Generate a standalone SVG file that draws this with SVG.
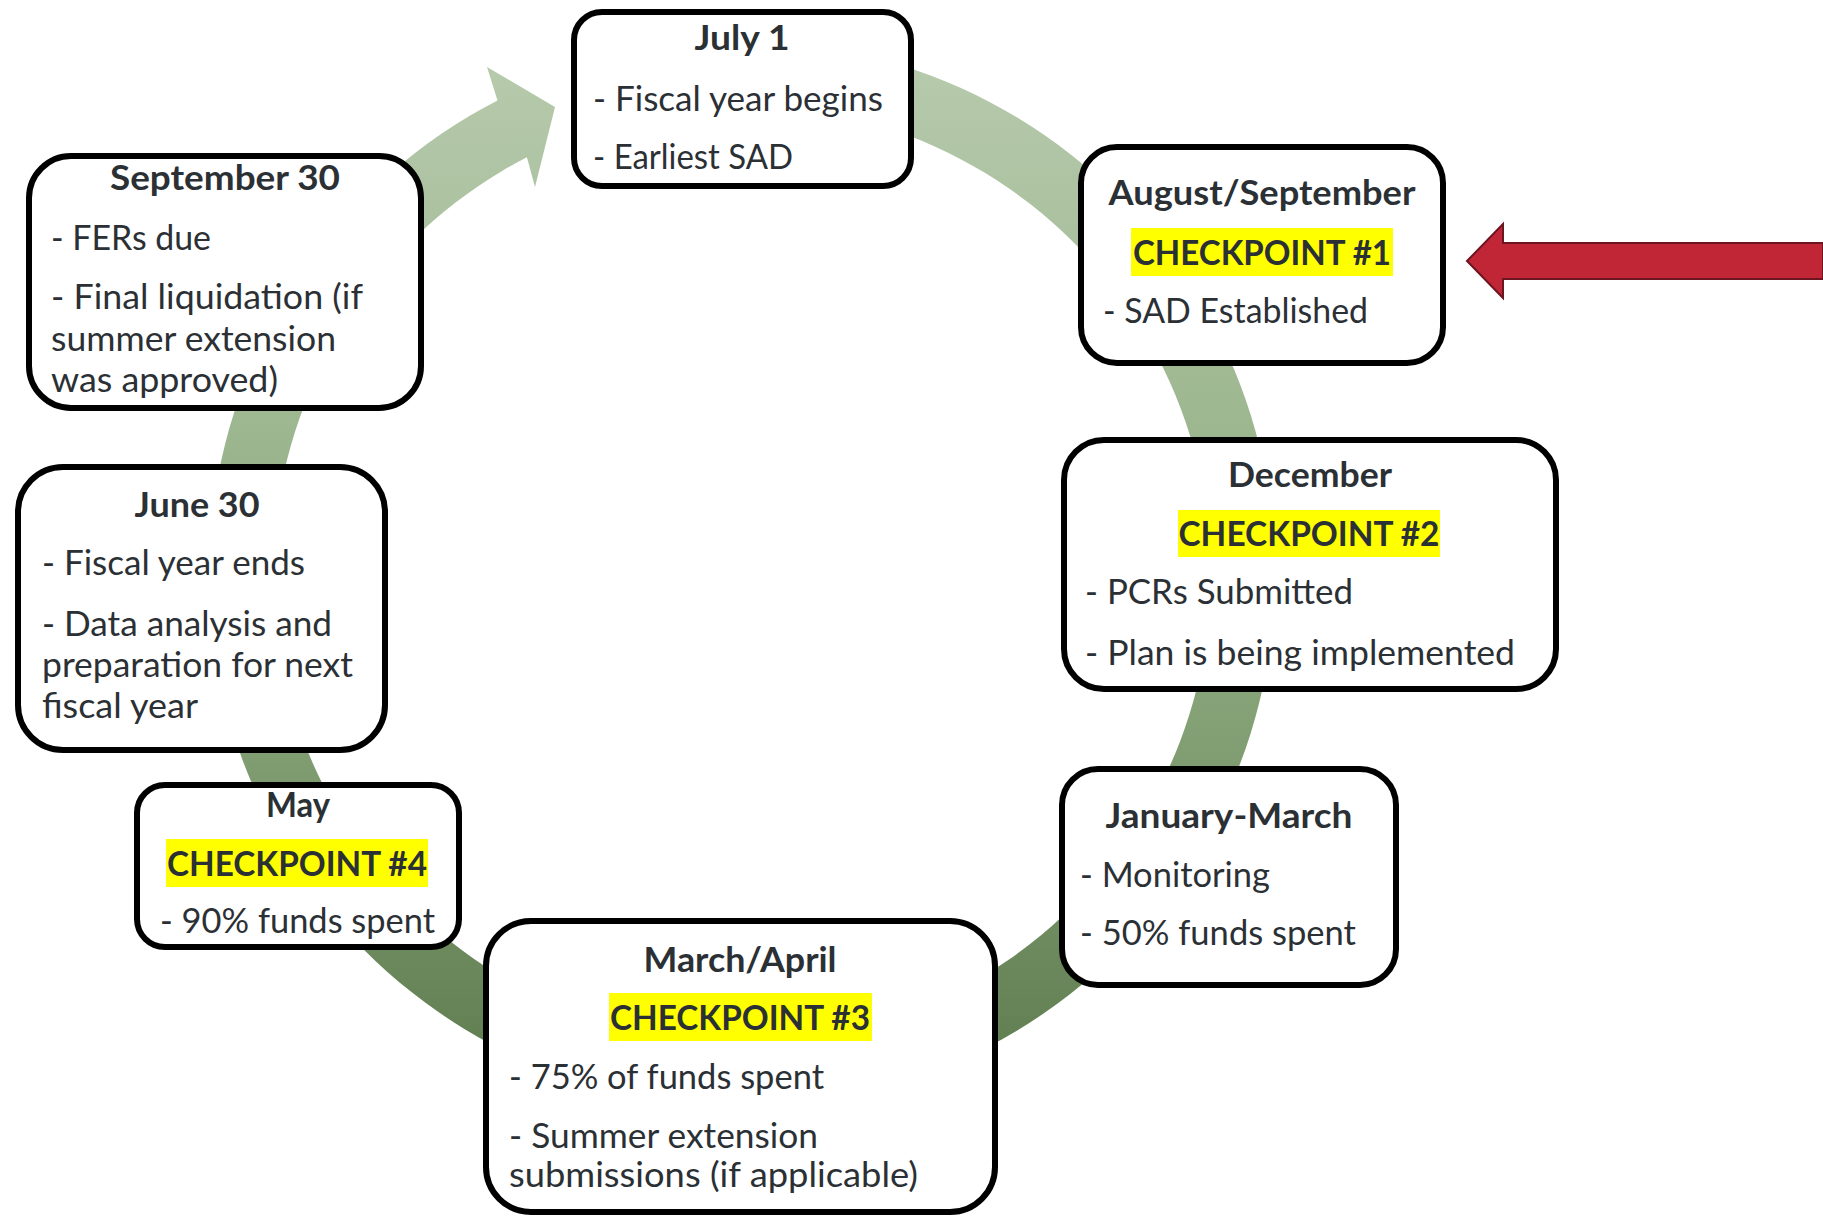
<svg xmlns="http://www.w3.org/2000/svg" width="1823" height="1218" viewBox="0 0 1823 1218">
<defs>
<linearGradient id="g" gradientUnits="userSpaceOnUse" x1="0" y1="41" x2="0" y2="1107">
<stop offset="0" stop-color="#b8cbae"/>
<stop offset="0.36" stop-color="#9db790"/>
<stop offset="0.64" stop-color="#84a075"/>
<stop offset="1" stop-color="#5b7a4c"/>
</linearGradient>
<style>
.box{fill:#fff;stroke:#000;stroke-width:6}
.t{font-family:Lato,"Noto Sans",sans-serif;font-weight:700;font-size:34px;fill:#2b3035;text-anchor:middle}
.l{font-family:Lato,"Noto Sans",sans-serif;font-size:35px;fill:#2b3035}
.hl{fill:#ffff00}
</style>
</defs>
<rect width="1823" height="1218" fill="#fff"/>
<g id="connectors">
<path id="cycle-arrow" fill="url(#g)" d="M 742 41 A 533 533 0 1 1 497.5 100.4 L 487 67 L 555 107 L 535 187 L 526.9 157.2 A 469 469 0 1 0 742 105 Z"/>
<polygon id="red-arrow" points="1467,261 1503,224 1503,243 1823,243 1823,279 1503,279 1503,298" fill="#c12637" stroke="#6d1520" stroke-width="2"/>
</g>
<g id="july1">
<rect class="box" x="574" y="12" width="337" height="174" rx="28"/>
<text class="t" x="742" y="50" textLength="95" lengthAdjust="spacingAndGlyphs">July 1</text>
<text class="l" x="593" y="111" textLength="290" lengthAdjust="spacingAndGlyphs">- Fiscal year begins</text>
<text class="l" x="593" y="169" textLength="200" lengthAdjust="spacingAndGlyphs">- Earliest SAD</text>
</g>
<g id="aug-sep">
<rect class="box" x="1081" y="147" width="362" height="216" rx="36"/>
<text class="t" x="1262" y="205" textLength="307" lengthAdjust="spacingAndGlyphs">August/September</text>
<rect class="hl" x="1131" y="228" width="262" height="48"/>
<text class="t" x="1262" y="265" textLength="258" lengthAdjust="spacingAndGlyphs">CHECKPOINT #1</text>
<text class="l" x="1103" y="323" textLength="265" lengthAdjust="spacingAndGlyphs">- SAD Established</text>
</g>
<g id="december">
<rect class="box" x="1064" y="440" width="492" height="249" rx="40"/>
<text class="t" x="1310" y="487" textLength="164" lengthAdjust="spacingAndGlyphs">December</text>
<rect class="hl" x="1178" y="510" width="262" height="47"/>
<text class="t" x="1309" y="546" textLength="261" lengthAdjust="spacingAndGlyphs">CHECKPOINT #2</text>
<text class="l" x="1085" y="604" textLength="268" lengthAdjust="spacingAndGlyphs">- PCRs Submitted</text>
<text class="l" x="1085" y="665" textLength="430" lengthAdjust="spacingAndGlyphs">- Plan is being implemented</text>
</g>
<g id="jan-mar">
<rect class="box" x="1062" y="769" width="334" height="216" rx="36"/>
<text class="t" x="1229" y="828" textLength="247" lengthAdjust="spacingAndGlyphs">January-March</text>
<text class="l" x="1080" y="887" textLength="190" lengthAdjust="spacingAndGlyphs">- Monitoring</text>
<text class="l" x="1080" y="945" textLength="276" lengthAdjust="spacingAndGlyphs">- 50% funds spent</text>
</g>
<g id="mar-apr">
<rect class="box" x="486" y="921" width="509" height="291" rx="45"/>
<text class="t" x="740" y="972" textLength="193" lengthAdjust="spacingAndGlyphs">March/April</text>
<rect class="hl" x="609" y="993" width="263" height="48"/>
<text class="t" x="740" y="1030" textLength="260" lengthAdjust="spacingAndGlyphs">CHECKPOINT #3</text>
<text class="l" x="509" y="1089" textLength="315" lengthAdjust="spacingAndGlyphs">- 75% of funds spent</text>
<text class="l" x="509" y="1148" textLength="309" lengthAdjust="spacingAndGlyphs">- Summer extension</text>
<text class="l" x="509" y="1187" textLength="409" lengthAdjust="spacingAndGlyphs">submissions (if applicable)</text>
</g>
<g id="may">
<rect class="box" x="137" y="785" width="322" height="162" rx="28"/>
<text class="t" x="298" y="817" textLength="64" lengthAdjust="spacingAndGlyphs">May</text>
<rect class="hl" x="166" y="839" width="262" height="48"/>
<text class="t" x="297" y="876" textLength="260" lengthAdjust="spacingAndGlyphs">CHECKPOINT #4</text>
<text class="l" x="160" y="933" textLength="275" lengthAdjust="spacingAndGlyphs">- 90% funds spent</text>
</g>
<g id="june30">
<rect class="box" x="18" y="467" width="367" height="283" rx="45"/>
<text class="t" x="197" y="517" textLength="125" lengthAdjust="spacingAndGlyphs">June 30</text>
<text class="l" x="42" y="575" textLength="263" lengthAdjust="spacingAndGlyphs">- Fiscal year ends</text>
<text class="l" x="42" y="636" textLength="290" lengthAdjust="spacingAndGlyphs">- Data analysis and</text>
<text class="l" x="42" y="677" textLength="311" lengthAdjust="spacingAndGlyphs">preparation for next</text>
<text class="l" x="42" y="718" textLength="156" lengthAdjust="spacingAndGlyphs">fiscal year</text>
</g>
<g id="sep30">
<rect class="box" x="29" y="156" width="392" height="252" rx="42"/>
<text class="t" x="225" y="190" textLength="230" lengthAdjust="spacingAndGlyphs">September 30</text>
<text class="l" x="51" y="250" textLength="160" lengthAdjust="spacingAndGlyphs">- FERs due</text>
<text class="l" x="51" y="309" textLength="312" lengthAdjust="spacingAndGlyphs">- Final liquidation (if</text>
<text class="l" x="51" y="351" textLength="285" lengthAdjust="spacingAndGlyphs">summer extension</text>
<text class="l" x="51" y="392" textLength="227" lengthAdjust="spacingAndGlyphs">was approved)</text>
</g>
</svg>
